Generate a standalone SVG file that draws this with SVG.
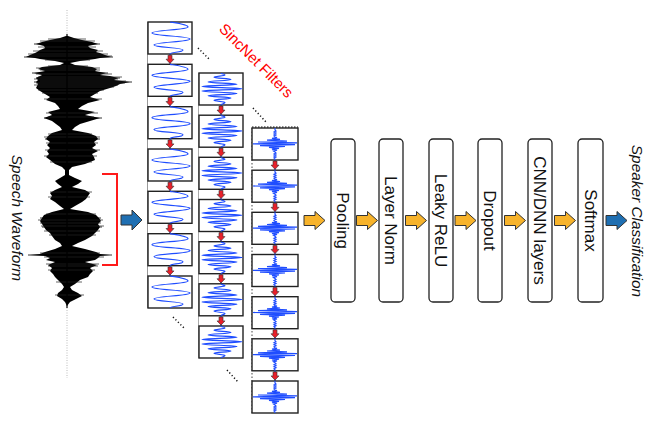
<svg xmlns="http://www.w3.org/2000/svg" xmlns:xlink="http://www.w3.org/1999/xlink" width="650" height="430" viewBox="0 0 650 430">
<style>
.box{fill:#fff;stroke:#222;stroke-width:1.4}
.wave{fill:none;stroke:#1f4dff;stroke-width:1.2}
.cline{stroke:#1f4dff;stroke-width:1.2}
.stage{fill:#fff;stroke:#222;stroke-width:1.3}
.lbl{font-family:"Liberation Sans",Arial,sans-serif;font-size:17px;fill:#111;text-anchor:middle}
.ital{font-family:"Liberation Sans",Arial,sans-serif;font-size:15.4px;font-style:italic;fill:#111;text-anchor:middle}
.oarr{fill:#f7b32b;stroke:#333;stroke-width:1}
.barr{fill:#1f6fb2;stroke:#333;stroke-width:1}
.rarr{fill:#e8202a;stroke:#333;stroke-width:0.6}
.dots{stroke:#111;stroke-width:1.5;stroke-dasharray:1.2 2.3;fill:none}
</style>
<defs>
<path id="w1" class="wave" d="M22,0 C28,1 40,2.5 40,5 C40,8 4,8 4,11 C4,14 42,14 42,17 C42,20 6,20 6,23 C6,25.5 35,25.5 35,28 C35,30.5 22,30 22,32"/>
<path id="w2" class="wave" d="M22,0 C22,1 26,1 26,2 C26,3 15,3.3 15,4.3 C15,5.3 32,5.6 32,6.6 C32,7.6 9,7.9 9,8.9 C9,9.9 38,10.2 38,11.2 C38,12.2 3,12.5 3,13.5 C3,14.5 43,14.8 43,15.8 C43,16.8 3,17.1 3,18.1 C3,19.1 38,19.4 38,20.4 C38,21.4 9,21.7 9,22.7 C9,23.7 32,24 32,25 C32,26 15,26.3 15,27.3 C15,28.3 26,28.6 26,29.6 C26,30.6 22,31 22,32"/>
<path id="w3" class="wave" d="M23,0 L23,2 L24,3 L22,4 L24,5 L22,6 L24,7 L22,8 L23,9 L25,9.5 L20,10.4 L28,11.3 L15,12.2 L35,13.1 L6,14 L45,14.9 L1,15.8 L43,16.7 L8,17.6 L33,18.5 L17,19.4 L27,20.3 L20,21.2 L25,22.1 L21.5,23 L23,24 L24,25 L22,26 L24,27 L22,28 L24,29 L22,30 L23,31 L23,32"/>
<path id="oa" class="oarr" d="M-10.5,-5 H0.5 V-9 L10.5,0 L0.5,9 V5 H-10.5 Z"/>
<path id="ra" class="rarr" d="M-2,-4 H2 V0 H4 L0,4.2 L-4,0 H-2 Z"/>
</defs>

<g id="waveform">
<line x1="67" y1="10" x2="67" y2="378" stroke="#bbb" stroke-width="1" stroke-dasharray="1 1.5"/>
<polygon fill="#000" points="68,36 74,38 82,40 92,42 98,44 88,46 90,48 98,50 96,52 100,53 105,55 111,57 100,58 95,59 80,61 70,63 75,65 92,67 97,69 95,71 106,73 100,75 110,76 118,78 114,80 130,82 120,84 116,86 110,88 100,91 95,94 90,97 100,100 88,103 82,106 78,109 95,112 85,115 100,118 90,121 80,124 75,127 72,130 88,133 96,136 98,139 94,142 96,145 92,148 98,151 92,154 94,157 95,160 85,164 72,167 69,170 69,175 75,178 82,181 78,184 72,187 85,190 90,193 88,196 86,199 82,202 75,206 70,209 88,212 96,215 99,218 101,221 98,224 100,227 98,230 95,233 92,236 85,240 78,243 72,246 85,249 96,252 100,254 110,255 100,256 98,258 95,260 85,262 97,265 90,268 93,271 90,274 88,277 80,280 75,284 70,287 72,290 78,293 82,296 76,299 70,302 67,306 65,302 62,299 57,296 58,293 62,290 64,287 62,284 58,280 55,277 53,274 50,271 52,268 48,265 55,262 46,260 50,258 45,256 30,255 40,254 45,252 55,249 62,246 60,243 55,240 52,236 50,233 46,230 44,227 42,224 40,221 42,218 44,215 52,212 64,209 60,206 55,202 50,199 52,196 50,193 55,190 62,187 58,184 55,181 60,178 65,175 65,170 62,167 55,164 50,160 46,157 49,154 47,151 50,148 47,145 50,142 46,139 48,136 52,133 62,130 60,127 56,124 52,121 44,118 52,115 48,112 60,109 58,106 55,103 46,100 50,97 45,94 40,91 36,88 37,86 38,84 36,82 38,80 36,78 40,76 42,75 34,73 45,71 38,69 42,67 60,65 64,63 55,61 40,59 35,58 26,57 30,55 35,53 37,52 40,50 45,48 44,46 36,44 42,42 50,40 60,38 66,36"/>
<path stroke="#000" stroke-width="0.8" fill="none" d="M24,57 H113 M34,82 H132 M28,255 H112 M34,44 H100 M32,73 H108 M40,218 H101 M36,78 H120 M44,118 H102 M45,139 H100 M42,227 H102"/>
<path stroke="#222" stroke-width="0.7" fill="none" d="M48,39 H86 M40,41 H95 M38,47 H96 M33,51 H103 M28,54 H108 M30,56 H112 M45,60 H90 M48,66 H88 M36,68 H100 M40,70 H100 M36,74 H112 M38,77 H122 M34,79 H118 M40,81 H126 M36,83 H125 M34,85 H118 M38,87 H114 M38,90 H104 M42,93 H98 M44,99 H102 M46,113 H98 M48,117 H94 M48,134 H92 M44,137 H100 M46,143 H98 M45,150 H100 M44,156 H97 M50,162 H92 M50,192 H92 M48,197 H90 M46,214 H96 M38,220 H103 M40,223 H101 M41,226 H104 M44,231 H100 M49,235 H96 M40,253 H100 M44,257 H104 M46,264 H99 M48,266 H98 M48,270 H95 M56,282 H82 M55,295 H84"/>
<line x1="67" y1="34" x2="67" y2="308" stroke="#000" stroke-width="1.2"/>
</g>

<g id="label-speech">
<text class="ital" transform="translate(17,218) rotate(90)" x="0" y="5.5">Speech Waveform</text>
</g>

<g id="filters-col1">
<line x1="147.5" y1="22" x2="147.5" y2="308" stroke="#999" stroke-width="1"/>
<line x1="170" y1="22" x2="170" y2="308" class="cline"/>
<rect class="box" x="148" y="22" width="44" height="32"/>
<rect class="box" x="148" y="64.3" width="44" height="32"/>
<rect class="box" x="148" y="106.7" width="44" height="32"/>
<rect class="box" x="148" y="149" width="44" height="32"/>
<rect class="box" x="148" y="191.3" width="44" height="32"/>
<rect class="box" x="148" y="233.7" width="44" height="32"/>
<rect class="box" x="148" y="276" width="44" height="32"/>
<use xlink:href="#w1" href="#w1" x="148" y="22"/>
<use xlink:href="#w1" href="#w1" x="148" y="64.3"/>
<use xlink:href="#w1" href="#w1" x="148" y="106.7"/>
<use xlink:href="#w1" href="#w1" x="148" y="149"/>
<use xlink:href="#w1" href="#w1" x="148" y="191.3"/>
<use xlink:href="#w1" href="#w1" x="148" y="233.7"/>
<use xlink:href="#w1" href="#w1" x="148" y="276"/>
</g>

<g id="filters-col2">
<line x1="198.5" y1="73" x2="198.5" y2="358" stroke="#aaa" stroke-width="1"/>
<line x1="221" y1="73" x2="221" y2="358" class="cline"/>
<rect class="box" x="199" y="73" width="44" height="32"/>
<rect class="box" x="199" y="115.2" width="44" height="32"/>
<rect class="box" x="199" y="157.3" width="44" height="32"/>
<rect class="box" x="199" y="199.5" width="44" height="32"/>
<rect class="box" x="199" y="241.7" width="44" height="32"/>
<rect class="box" x="199" y="283.8" width="44" height="32"/>
<rect class="box" x="199" y="326" width="44" height="32"/>
<use xlink:href="#w2" href="#w2" x="199" y="73"/>
<use xlink:href="#w2" href="#w2" x="199" y="115.2"/>
<use xlink:href="#w2" href="#w2" x="199" y="157.3"/>
<use xlink:href="#w2" href="#w2" x="199" y="199.5"/>
<use xlink:href="#w2" href="#w2" x="199" y="241.7"/>
<use xlink:href="#w2" href="#w2" x="199" y="283.8"/>
<use xlink:href="#w2" href="#w2" x="199" y="326"/>
</g>

<g id="filters-col3">
<line x1="252" y1="128" x2="252" y2="413" stroke="#444" stroke-width="1" stroke-dasharray="1.5 2"/>
<line x1="275" y1="128" x2="275" y2="413" class="cline"/>
<rect class="box" x="252" y="128" width="46" height="32"/>
<rect class="box" x="252" y="170.2" width="46" height="32"/>
<rect class="box" x="252" y="212.3" width="46" height="32"/>
<rect class="box" x="252" y="254.5" width="46" height="32"/>
<rect class="box" x="252" y="296.7" width="46" height="32"/>
<rect class="box" x="252" y="338.8" width="46" height="32"/>
<rect class="box" x="252" y="381" width="46" height="32"/>
<line x1="252" y1="127" x2="298" y2="127" stroke="#111" stroke-width="1.2" stroke-dasharray="1.5 1.5"/>
<use xlink:href="#w3" href="#w3" x="252" y="128"/>
<use xlink:href="#w3" href="#w3" x="252" y="170.2"/>
<use xlink:href="#w3" href="#w3" x="252" y="212.3"/>
<use xlink:href="#w3" href="#w3" x="252" y="254.5"/>
<use xlink:href="#w3" href="#w3" x="252" y="296.7"/>
<use xlink:href="#w3" href="#w3" x="252" y="338.8"/>
<use xlink:href="#w3" href="#w3" x="252" y="381"/>
</g>

<g id="label-sincnet">
<text transform="translate(256.5,60.5) rotate(45)" x="0" y="5.4" style="font-family:'Liberation Sans',Arial,sans-serif;font-size:15px;fill:#ff0000;text-anchor:middle">SincNet Filters</text>
</g>

<g id="node-pooling"><rect class="stage" x="331" y="139" width="24" height="163" rx="4"/><text class="lbl" transform="translate(343,220.5) rotate(90)" y="6">Pooling</text></g>
<g id="node-layernorm"><rect class="stage" x="379" y="139" width="24" height="163" rx="4"/><text class="lbl" transform="translate(391,220.5) rotate(90)" y="6">Layer Norm</text></g>
<g id="node-leakyrelu"><rect class="stage" x="429" y="139" width="24" height="163" rx="4"/><text class="lbl" transform="translate(441,220.5) rotate(90)" y="6">Leaky ReLU</text></g>
<g id="node-dropout"><rect class="stage" x="478" y="139" width="24" height="163" rx="4"/><text class="lbl" transform="translate(490,220.5) rotate(90)" y="6">Dropout</text></g>
<g id="node-cnndnn"><rect class="stage" x="528" y="139" width="24" height="163" rx="4"/><text class="lbl" transform="translate(540,220.5) rotate(90)" y="6">CNN/DNN layers</text></g>
<g id="node-softmax"><rect class="stage" x="578" y="139" width="25" height="163" rx="4"/><text class="lbl" transform="translate(590.5,220.5) rotate(90)" y="6">Softmax</text></g>

<g id="label-speaker">
<text class="ital" transform="translate(637.5,221) rotate(90)" x="0" y="5.5">Speaker Classification</text>
</g>

<g id="connectors">
<path d="M102,174 H117 V265 H102" fill="none" stroke="#ff1a1a" stroke-width="2"/>
<path class="barr" transform="translate(131.5,220)" d="M-10.5,-5 H0.5 V-10 L10.5,0 L0.5,10 V5 H-10.5 Z"/>
<path class="dots" d="M198,48 L210,60 M253,108 L266,122 M173,317 L185,329 M227,370 L238,382"/>
<use xlink:href="#ra" href="#ra" transform="translate(170,59.2)"/>
<use xlink:href="#ra" href="#ra" transform="translate(170,101.5)"/>
<use xlink:href="#ra" href="#ra" transform="translate(170,143.9)"/>
<use xlink:href="#ra" href="#ra" transform="translate(170,186.2)"/>
<use xlink:href="#ra" href="#ra" transform="translate(170,228.5)"/>
<use xlink:href="#ra" href="#ra" transform="translate(170,270.9)"/>
<use xlink:href="#ra" href="#ra" transform="translate(221,110.1)"/>
<use xlink:href="#ra" href="#ra" transform="translate(221,152.3)"/>
<use xlink:href="#ra" href="#ra" transform="translate(221,194.4)"/>
<use xlink:href="#ra" href="#ra" transform="translate(221,236.6)"/>
<use xlink:href="#ra" href="#ra" transform="translate(221,278.8)"/>
<use xlink:href="#ra" href="#ra" transform="translate(221,320.9)"/>
<use xlink:href="#ra" href="#ra" transform="translate(275,165.1)"/>
<use xlink:href="#ra" href="#ra" transform="translate(275,207.3)"/>
<use xlink:href="#ra" href="#ra" transform="translate(275,249.4)"/>
<use xlink:href="#ra" href="#ra" transform="translate(275,291.6)"/>
<use xlink:href="#ra" href="#ra" transform="translate(275,333.8)"/>
<use xlink:href="#ra" href="#ra" transform="translate(275,375.9)"/>
<use xlink:href="#oa" href="#oa" transform="translate(314.5,220.5)"/>
<use xlink:href="#oa" href="#oa" transform="translate(367,220.5)"/>
<use xlink:href="#oa" href="#oa" transform="translate(416,220.5)"/>
<use xlink:href="#oa" href="#oa" transform="translate(465.5,220.5)"/>
<use xlink:href="#oa" href="#oa" transform="translate(515,220.5)"/>
<use xlink:href="#oa" href="#oa" transform="translate(565,220.5)"/>
<path class="barr" transform="translate(616.5,220.5)" d="M-10.5,-5 H0.5 V-9 L10.5,0 L0.5,9 V5 H-10.5 Z"/>
</g>
</svg>
